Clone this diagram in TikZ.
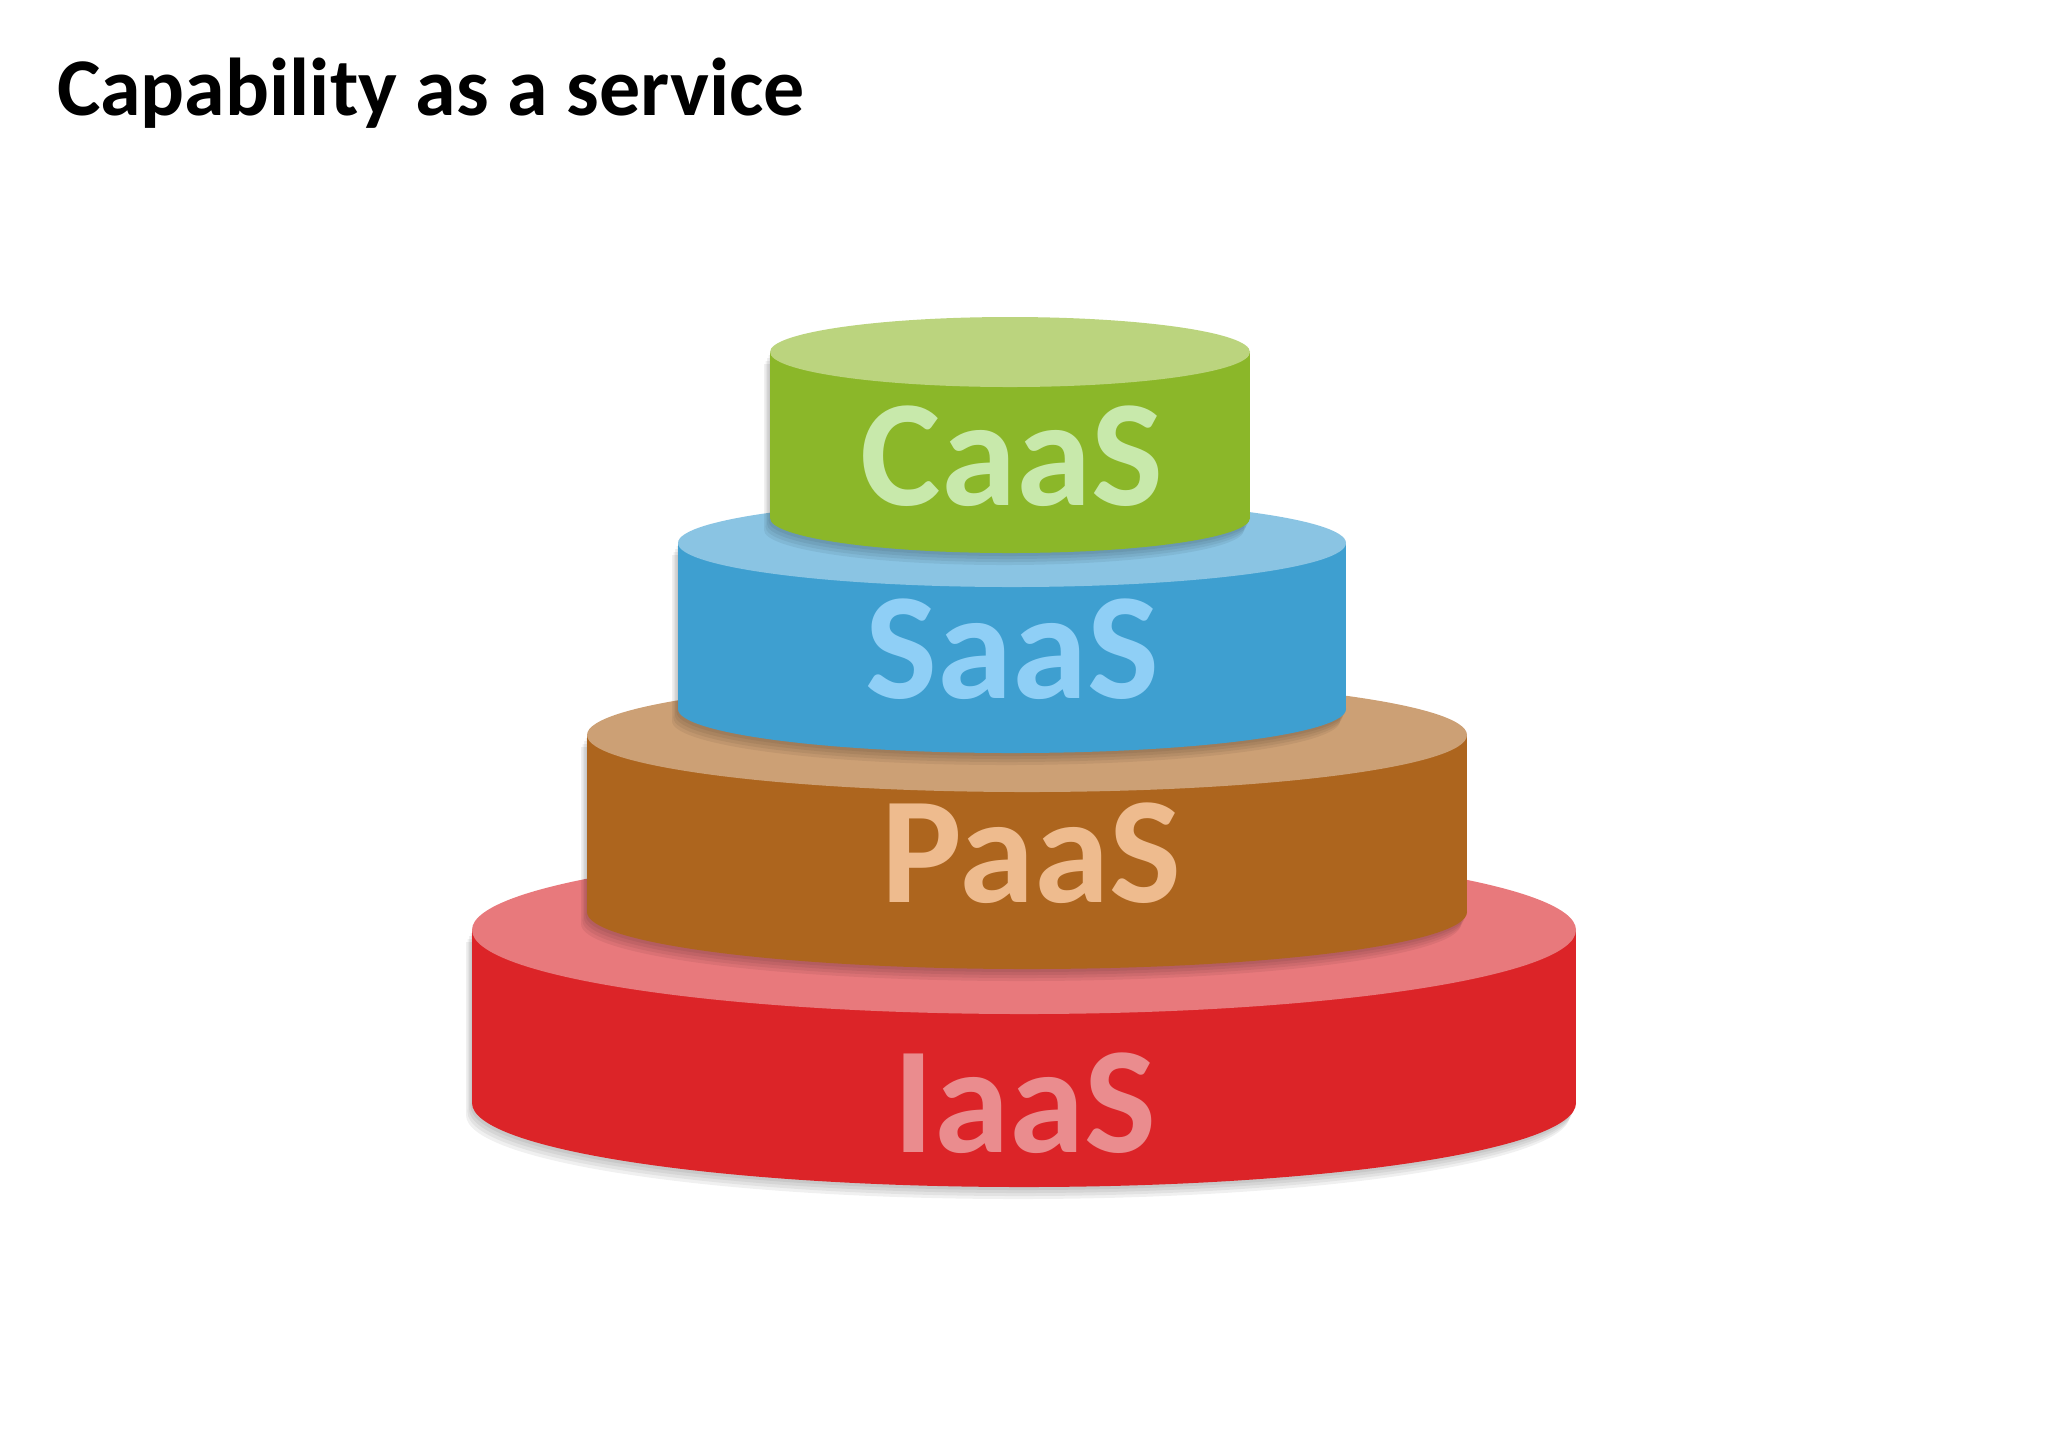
\documentclass[tikz,border=0pt]{standalone}
\usepackage{fontspec}
\setmainfont{Carlito}
\usepackage{xcolor}
\usetikzlibrary{positioning}

\definecolor{iaasSide}{HTML}{DC2428}
\definecolor{iaasTop}{HTML}{E8797C}
\definecolor{iaasText}{HTML}{EA8C8E}
\definecolor{paasSide}{HTML}{AD651E}
\definecolor{paasTop}{HTML}{CCA075}
\definecolor{paasText}{HTML}{EEBB8E}
\definecolor{saasSide}{HTML}{3E9FD0}
\definecolor{saasTop}{HTML}{8AC4E3}
\definecolor{saasText}{HTML}{8FCFF6}
\definecolor{caasSide}{HTML}{8BB729}
\definecolor{caasTop}{HTML}{BBD47E}
\definecolor{caasText}{HTML}{C8E9AB}

\begin{document}
\begin{tikzpicture}[
    x=0.5pt, y=-0.5pt,
    titletext/.style={font=\fontsize{41}{50}\selectfont\bfseries, anchor=base west},
    layertext/.style={font=\fontsize{76}{90}\selectfont\bfseries, anchor=base}
]
\useasboundingbox (0,0) rectangle (2048,1448);

% Title
\node[titletext] (title) at (50,115) {Capability as a service};

% Layers, bottom to top
\foreach \cx/\yt/\yb/\rx/\ry/\tx/\ty/\col/\name in {
    1024/930/1103/552/84/1025/1152/iaas/IaaS,
    1027/735/912/440/57/1031/902/paas/PaaS,
    1012/543/709/334/44/1012/698/saas/SaaS,
    1010/352/518/240/35/1012/505/caas/CaaS}{
  % soft shadow
  \foreach \d in {3,6,9,12}{
    \begin{scope}[transparency group, opacity=0.06]
      \fill[black] (\cx-\rx-\d/2,\yt+\d) rectangle (\cx+\rx-\d/2,\yb+\d);
      \fill[black] (\cx-\d/2,\yb+\d) ellipse [x radius=\rx, y radius=\ry];
    \end{scope}
  }
  % side and top
  \fill[\col Side] (\cx-\rx,\yt) rectangle (\cx+\rx,\yb);
  \fill[\col Side] (\cx,\yb) ellipse [x radius=\rx, y radius=\ry];
  \fill[\col Top] (\cx,\yt) ellipse [x radius=\rx, y radius=\ry];
  \node[layertext, text=\col Text] (\name) at (\tx,\ty) {\name};
}
\end{tikzpicture}
\end{document}
